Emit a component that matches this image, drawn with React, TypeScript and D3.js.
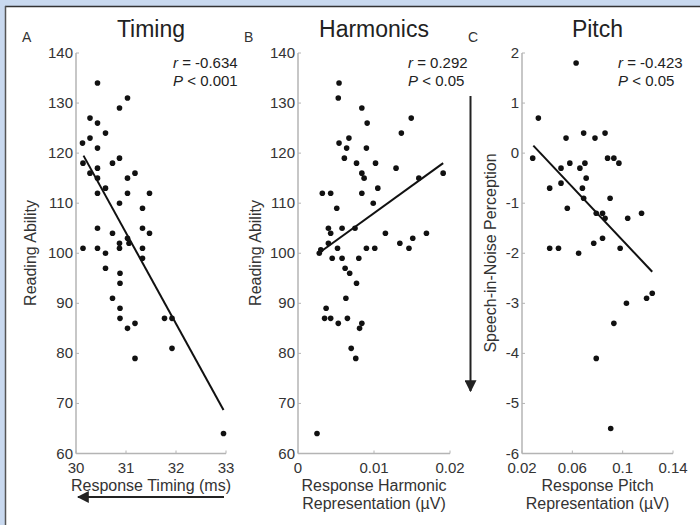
import React from 'react'
import * as d3 from 'd3'

// Panel A: response timing (ms) vs reading ability
const timingPts: [number, number][] = [
  [30.43, 134], [31.03, 131], [30.87, 129], [30.28, 127], [30.43, 126], [30.59, 124],
  [30.13, 122], [30.28, 123], [30.43, 121], [30.14, 118], [30.73, 118], [30.87, 119],
  [30.28, 116], [30.43, 117], [31.18, 116], [31.03, 115], [30.43, 115], [30.59, 113],
  [30.43, 112], [31.03, 112], [31.47, 112], [30.87, 110], [31.33, 109], [30.43, 105],
  [31.33, 105], [30.73, 104], [31.47, 104], [31.03, 103], [31.06, 102], [30.14, 101],
  [30.43, 101], [30.59, 100], [30.87, 101], [30.87, 102], [31.33, 101], [31.33, 99],
  [30.59, 97], [30.88, 96], [30.88, 94], [30.73, 91], [30.88, 89], [30.88, 87],
  [31.03, 85], [31.18, 86], [31.18, 79], [31.77, 87], [31.92, 87], [31.92, 81], [32.95, 64],
]
const timingFitX = [30.15, 32.95]
const timingFitY = [119.5, 68.7]

// Panel B: harmonic representation (µV) vs reading ability
const harmonicPts: [number, number][] = [
  [0.0054, 134], [0.0053, 131], [0.0084, 129], [0.0091, 126], [0.0149, 127], [0.0136, 124],
  [0.0054, 122], [0.0067, 123], [0.0064, 121], [0.009, 121], [0.0061, 119], [0.0077, 118],
  [0.0102, 118], [0.0129, 117], [0.0084, 116], [0.0087, 115], [0.0159, 115], [0.0191, 116],
  [0.0105, 113], [0.0032, 112], [0.0043, 112], [0.0084, 112], [0.0099, 110], [0.0051, 109],
  [0.004, 105], [0.0058, 105], [0.0075, 105], [0.0043, 104], [0.0115, 104], [0.0169, 104],
  [0.0151, 103], [0.004, 102], [0.0134, 102], [0.0052, 101], [0.009, 101], [0.0101, 101],
  [0.0146, 101], [0.0028, 100], [0.003, 100.7], [0.0045, 99], [0.0058, 99], [0.008, 99],
  [0.0062, 97], [0.0068, 96], [0.0077, 94], [0.0063, 91], [0.0037, 89], [0.0035, 87],
  [0.0043, 87], [0.0065, 87], [0.0053, 86], [0.0084, 86], [0.0081, 85], [0.007, 81],
  [0.0076, 79], [0.0025, 64],
]
const harmonicFitX = [0.0027, 0.0191]
const harmonicFitY = [100, 118]

// Panel C: pitch representation (µV) vs speech-in-noise perception
const pitchPts: [number, number][] = [
  [0.063, 1.8], [0.033, 0.7], [0.0285, -0.1], [0.055, 0.3], [0.069, 0.4], [0.078, 0.3],
  [0.086, 0.4], [0.088, -0.1], [0.093, -0.1], [0.097, -0.2], [0.058, -0.2], [0.07, -0.2],
  [0.051, -0.3], [0.066, -0.3], [0.071, -0.5], [0.051, -0.6], [0.042, -0.7], [0.068, -0.7],
  [0.069, -0.9], [0.09, -0.9], [0.056, -1.1], [0.079, -1.2], [0.084, -1.2], [0.086, -1.3],
  [0.104, -1.3], [0.115, -1.2], [0.084, -1.7], [0.077, -1.8], [0.042, -1.9], [0.049, -1.9],
  [0.098, -1.9], [0.065, -2.0], [0.103, -3.0], [0.093, -3.4], [0.119, -2.9], [0.1235, -2.8],
  [0.079, -4.1], [0.0905, -5.5],
]
const pitchFitX = [0.029, 0.1235]
const pitchFitY = [0.15, -2.37]

const readingTicks = [60, 70, 80, 90, 100, 110, 120, 130, 140]
const timingTicks = [30, 31, 32, 33]
const harmonicTicks = [0, 0.01, 0.02]
const pitchTicks = [0.02, 0.06, 0.1, 0.14]
const sinTicks = [-6, -5, -4, -3, -2, -1, 0, 1, 2]

const FONT = '"Liberation Sans", Arial, sans-serif'
const AXIS = '#b4b4b4'
const TXT = '#333'

type PanelProps = {
  letter: string
  title: string
  pts: [number, number][]
  fitX: number[]
  fitY: number[]
  xDomain: [number, number]
  xRange: [number, number]
  yDomain: [number, number]
  xTicks: number[]
  yTicks: number[]
  xLabel: string[]
  yLabel: string
  yLabelX: number
  rText: string
  pText: string
  statX: number
}

const Panel = (p: PanelProps) => {
  const x = d3.scaleLinear().domain(p.xDomain).range(p.xRange)
  const y = d3.scaleLinear().domain(p.yDomain).range([453.5, 53])
  const x0 = p.xRange[0]
  const x1 = p.xRange[1]
  const cx = (x0 + x1) / 2
  const line = d3.line<number>()
    .x((_, i) => x(p.fitX[i]))
    .y((_, i) => y(p.fitY[i]))
  return (
    <g fontFamily={FONT}>
      <text x={x0 - 54} y={42} fontSize={14} fill={TXT}>{p.letter}</text>
      <text x={cx} y={37} fontSize={23} fill="#222" textAnchor="middle">{p.title}</text>

      {/* axes */}
      <line x1={x0} x2={x0} y1={y(p.yDomain[0])} y2={y(p.yDomain[1])} stroke={AXIS} strokeWidth={1.5} />
      <line x1={x0} x2={x1} y1={y(p.yDomain[0])} y2={y(p.yDomain[0])} stroke={AXIS} strokeWidth={1.5} />
      {p.yTicks.map(t => (
        <g key={'y' + t}>
          <line x1={x0} x2={x0 + 3} y1={y(t)} y2={y(t)} stroke={AXIS} strokeWidth={1} />
          <text x={x0 - 3} y={y(t) + 5} fontSize={15} fill={TXT} textAnchor="end">{t}</text>
        </g>
      ))}
      {p.xTicks.map(t => (
        <g key={'x' + t}>
          <line x1={x(t)} x2={x(t)} y1={y(p.yDomain[0])} y2={y(p.yDomain[0]) - 3} stroke={AXIS} strokeWidth={1} />
          <text x={x(t)} y={473} fontSize={15} fill={TXT} textAnchor="middle">{t}</text>
        </g>
      ))}

      {/* labels */}
      {p.xLabel.map((l, i) => (
        <text key={l} x={cx} y={491 + i * 18} fontSize={16} fill={TXT} textAnchor="middle">{l}</text>
      ))}
      <text transform={`translate(${p.yLabelX},253) rotate(-90)`} fontSize={16} fill={TXT} textAnchor="middle">{p.yLabel}</text>

      {/* stats */}
      <text x={p.statX} y={68} fontSize={15} fill="#222">
        <tspan fontStyle="italic">r</tspan> = {p.rText}
      </text>
      <text x={p.statX} y={86} fontSize={15} fill="#222">
        <tspan fontStyle="italic">P</tspan> &lt; {p.pText}
      </text>

      {/* data */}
      {p.pts.map((d, i) => (
        <circle key={i} cx={x(d[0])} cy={y(d[1])} r={2.8} fill="#111" />
      ))}
      <path d={line(p.fitX) || ''} stroke="#111" strokeWidth={2} fill="none" />
    </g>
  )
}

const App = () => {
  return (
    <svg width={700} height={525} style={{ position: 'absolute', left: 0, top: 0, background: '#fff' }}>
      <defs>
        <marker id="ah" viewBox="0 0 10 10" refX={9} refY={5} markerWidth={6} markerHeight={6} orient="auto-start-reverse">
          <path d="M0,0 L10,5 L0,10 Z" fill="#222" />
        </marker>
      </defs>
      <rect x={0} y={0} width={700} height={6} fill="#c9d9ef" />
      <rect x={0} y={0} width={5} height={525} fill="#c9d9ef" />
      <line x1={5} x2={700} y1={6.5} y2={6.5} stroke="#333" strokeWidth={1.5} />
      <line x1={5.5} x2={5.5} y1={6} y2={525} stroke="#555" strokeWidth={1.5} />

      <Panel letter="A" title="Timing" pts={timingPts} fitX={timingFitX} fitY={timingFitY}
        xDomain={[30, 33]} xRange={[76, 226]} yDomain={[60, 140]}
        xTicks={timingTicks} yTicks={readingTicks}
        xLabel={['Response Timing (ms)']} yLabel="Reading Ability" yLabelX={36}
        rText="-0.634" pText="0.001" statX={173} />
      <Panel letter="B" title="Harmonics" pts={harmonicPts} fitX={harmonicFitX} fitY={harmonicFitY}
        xDomain={[0, 0.02]} xRange={[298, 450]} yDomain={[60, 140]}
        xTicks={harmonicTicks} yTicks={readingTicks}
        xLabel={['Response Harmonic', 'Representation (\u00b5V)']} yLabel="Reading Ability" yLabelX={261}
        rText="0.292" pText="0.05" statX={408} />
      <Panel letter="C" title="Pitch" pts={pitchPts} fitX={pitchFitX} fitY={pitchFitY}
        xDomain={[0.02, 0.14]} xRange={[522, 673]} yDomain={[-6, 2]}
        xTicks={pitchTicks} yTicks={sinTicks}
        xLabel={['Response Pitch', 'Representation (\u00b5V)']} yLabel="Speech-in-Noise Perception" yLabelX={496}
        rText="-0.423" pText="0.05" statX={618} />

      {/* direction arrows */}
      <line x1={224} x2={78} y1={497} y2={497} stroke="#222" strokeWidth={2} markerEnd="url(#ah)" />
      <line x1={470.5} x2={470.5} y1={96} y2={391} stroke="#222" strokeWidth={2} markerEnd="url(#ah)" />
    </svg>
  )
}

export default App
